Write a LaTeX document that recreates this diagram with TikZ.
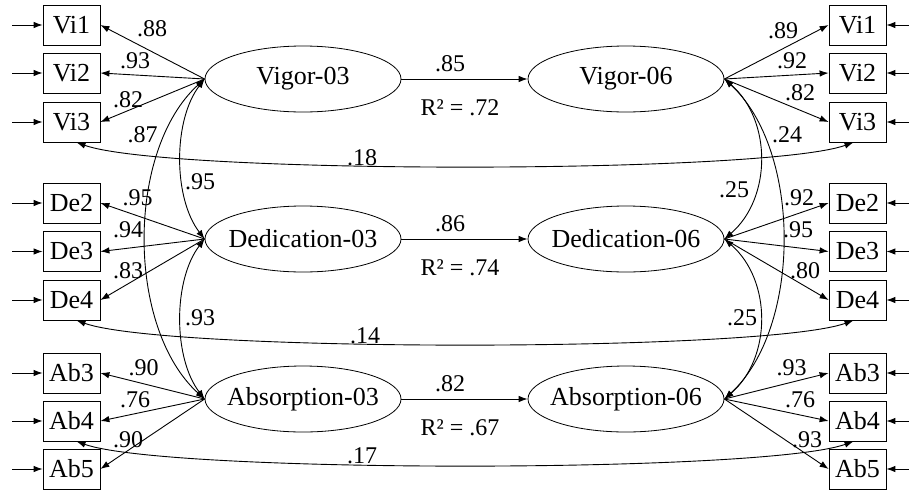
\documentclass[tikz,border=0pt]{standalone}
\usepackage{fontspec}
\setmainfont{Liberation Serif}
\usetikzlibrary{shapes.geometric,arrows.meta}
\begin{document}
\begin{tikzpicture}[x=1pt,y=-1pt,
  obs/.style={draw,line width=0.8pt,minimum width=57pt,minimum height=40pt,inner sep=0pt,font=\fontsize{26}{28}\selectfont},
  lat/.style={draw,ellipse,line width=0.8pt,minimum width=196pt,minimum height=66pt,inner sep=0pt,font=\fontsize{26}{28}\selectfont},
  coef/.style={font=\fontsize{24}{26}\selectfont,anchor=base,inner sep=0pt},
  arr/.style={line width=0.9pt,-{Latex[length=9pt,width=6.5pt]}},
  cov/.style={line width=0.9pt,{Latex[length=9pt,width=6.5pt]}-{Latex[length=9pt,width=6.5pt]}},
]
\useasboundingbox (0,0) rectangle (909,490);

% observed indicators and their error arrows
\foreach \n/\y in {Vi1/25,Vi2/73,Vi3/122,De2/203,De3/251.5,De4/300,Ab3/373,Ab4/421,Ab5/469} {
  \node[obs] (l\n) at (71.5,\y) {\n};
  \node[obs] (r\n) at (857.5,\y) {\n};
  \coordinate (li\n) at (12,\y);
  \coordinate (ri\n) at (909,\y);
  \draw[arr] (li\n) -- (l\n);
  \draw[arr] (ri\n) -- (r\n);
}

% latent factors
\node[lat] (V3) at (303,79) {\makebox[0pt]{Vigor-03}};
\node[lat] (D3) at (303,239) {\makebox[0pt]{Dedication-03}};
\node[lat] (A3) at (303,399) {\makebox[0pt]{Absorption-03}};
\node[lat] (V6) at (626,79) {\makebox[0pt]{Vigor-06}};
\node[lat] (D6) at (626,239) {\makebox[0pt]{Dedication-06}};
\node[lat] (A6) at (626,399) {\makebox[0pt]{Absorption-06}};

% loadings
\foreach \n in {Vi1,Vi2,Vi3} {\draw[arr] (V3.west) -- (l\n.east); \draw[arr] (V6.east) -- (r\n.west);}
\foreach \n in {De2,De3,De4} {\draw[arr] (D3.west) -- (l\n.east); \draw[arr] (D6.east) -- (r\n.west);}
\foreach \n in {Ab3,Ab4,Ab5} {\draw[arr] (A3.west) -- (l\n.east); \draw[arr] (A6.east) -- (r\n.west);}

% regressions
\draw[arr] (V3) -- (V6);
\draw[arr] (D3) -- (D6);
\draw[arr] (A3) -- (A6);

% factor covariances
\draw[cov] (V3.west) .. controls (173,120) and (173,198) .. (D3.west);
\draw[cov] (D3.west) .. controls (173,280) and (173,358) .. (A3.west);
\draw[cov] (V3.west) .. controls (126,150) and (126,328) .. (A3.west);
\draw[cov] (V6.east) .. controls (772,120) and (772,198) .. (D6.east);
\draw[cov] (D6.east) .. controls (772,280) and (772,358) .. (A6.east);
\draw[cov] (V6.east) .. controls (802,150) and (802,328) .. (A6.east);

% error covariances
\draw[cov] ([xshift=5pt]lVi3.south) .. controls +(90,32) and +(-90,32) .. ([xshift=-4pt]rVi3.south);
\draw[cov] ([xshift=5pt]lDe4.south) .. controls +(90,32) and +(-90,32) .. ([xshift=-4pt]rDe4.south);
\draw[cov] ([xshift=5pt]lAb4.south) .. controls +(90,32) and +(-90,32) .. ([xshift=-4pt]rAb4.south);

% coefficients, left
\node[coef] (c1) at (152,36) {.88};
\node[coef] (c2) at (135,68) {.93};
\node[coef] (c3) at (128,107) {.82};
\node[coef] (c4) at (142.5,142) {.87};
\node[coef] (c5) at (137.5,205) {.95};
\node[coef] (c6) at (128,237) {.94};
\node[coef] (c7) at (128,278) {.83};
\node[coef] (c8) at (200,189) {.95};
\node[coef] (c9) at (200,325) {.93};
\node[coef] (c10) at (143.5,375) {.90};
\node[coef] (c11) at (135,407) {.76};
\node[coef] (c12) at (128,447) {.90};
% coefficients, right
\node[coef] (d1) at (783,38) {.89};
\node[coef] (d2) at (792,68) {.92};
\node[coef] (d3) at (800,100) {.82};
\node[coef] (d4) at (787,142) {.24};
\node[coef] (d5) at (734,197) {.25};
\node[coef] (d6) at (799,205) {.92};
\node[coef] (d7) at (798,237) {.95};
\node[coef] (d8) at (805,278) {.80};
\node[coef] (d9) at (742,325) {.25};
\node[coef] (d10) at (791.5,375) {.93};
\node[coef] (d11) at (800,407) {.76};
\node[coef] (d12) at (807,447) {.93};
% middle
\node[coef] (m1) at (450,71) {.85};
\node[coef] (m2) at (460,115) {R² = .72};
\node[coef] (m3) at (450,231) {.86};
\node[coef] (m4) at (460,275) {R² = .74};
\node[coef] (m5) at (450,391) {.82};
\node[coef] (m6) at (460,435) {R² = .67};
\node[coef] (m7) at (362,165) {.18};
\node[coef] (m8) at (365,343) {.14};
\node[coef] (m9) at (362,463) {.17};
\end{tikzpicture}
\end{document}
